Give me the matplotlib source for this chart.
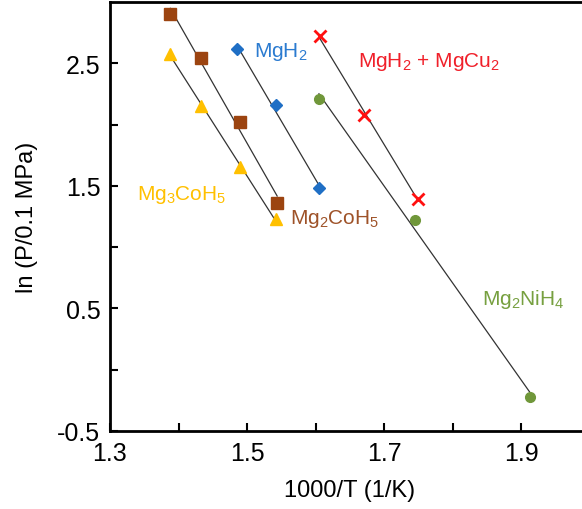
import numpy as np
import matplotlib
matplotlib.use("Agg")
import matplotlib.pyplot as plt

plt.rcParams["font.family"] = ["Liberation Sans", "DejaVu Sans"]
plt.rcParams["mathtext.fontset"] = "custom"
plt.rcParams["mathtext.rm"] = "Liberation Sans"
plt.rcParams["mathtext.it"] = "Liberation Sans"

# Daten
mg2coh5_x = [1.388, 1.433, 1.490, 1.544]
mg2coh5_y = [2.90, 2.54, 2.02, 1.36]

mg3coh5_x = [1.388, 1.433, 1.490, 1.542]
mg3coh5_y = [2.58, 2.15, 1.65, 1.23]

mgh2_x = [1.485, 1.542, 1.605]
mgh2_y = [2.62, 2.16, 1.48]

mgh2_mgcu2_x = [1.606, 1.671, 1.750]
mgh2_mgcu2_y = [2.72, 2.08, 1.39]

mg2nih4_x = [1.605, 1.745, 1.913]
mg2nih4_y = [2.21, 1.22, -0.22]

series = [
    (mg2coh5_x, mg2coh5_y, "s", "#9C4410", 9),
    (mg3coh5_x, mg3coh5_y, "^", "#FFC000", 8),
    (mgh2_x, mgh2_y, "D", "#1F6FC5", 6),
    (mgh2_mgcu2_x, mgh2_mgcu2_y, "x", "#FF1010", 8),
    (mg2nih4_x, mg2nih4_y, "o", "#70973A", 7),
]

labels = [
    (1.510, 2.60, r"MgH$_2$", "#2B7BD0"),
    (1.662, 2.52, r"MgH$_2$ + MgCu$_2$", "#F0202A"),
    (1.340, 1.43, r"Mg$_3$CoH$_5$", "#FFC000"),
    (1.563, 1.24, r"Mg$_2$CoH$_5$", "#9E5228"),
    (1.843, 0.58, r"Mg$_2$NiH$_4$", "#77A040"),
]

fig = plt.figure(figsize=(5.82, 5.10), dpi=100)
ax = fig.add_axes([0.189, 0.153, 0.824, 0.841])

for xs, ys, mk, col, ms in series:
    xs = np.array(xs)
    ys = np.array(ys)
    k, d = np.polyfit(xs, ys, 1)
    ax.plot([xs.min(), xs.max()], [k * xs.min() + d, k * xs.max() + d],
            color="#333333", lw=0.9, zorder=2)
    if mk == "x":
        ax.plot(xs, ys, mk, color=col, ms=ms, mew=2, zorder=3)
    else:
        ax.plot(xs, ys, mk, color=col, ms=ms, mec=col, zorder=3)

for x, y, txt, col in labels:
    ax.text(x, y, txt, color=col, fontsize=15, ha="left", va="center")

ax.set_xlim(1.3, 2.0)
ax.set_ylim(-0.5, 3.0)
ax.set_xticks([1.3, 1.5, 1.7, 1.9])
ax.set_xticks([1.4, 1.6, 1.8], minor=True)
ax.set_yticks([-0.5, 0.5, 1.5, 2.5])
ax.set_yticks([0.0, 1.0, 2.0], minor=True)
ax.set_xticklabels(["1.3", "1.5", "1.7", "1.9"])
ax.set_yticklabels(["-0.5", "0.5", "1.5", "2.5"])
ax.tick_params(which="both", direction="in", length=6, width=1.5,
               labelsize=18, pad=7, right=False, top=False)

for s in ax.spines.values():
    s.set_linewidth(2)

ax.set_xlabel("1000/T (1/K)", fontsize=17, labelpad=10)
ax.set_ylabel("ln (P/0.1 MPa)", fontsize=17, labelpad=14)

fig.savefig("out.png", dpi=100)
